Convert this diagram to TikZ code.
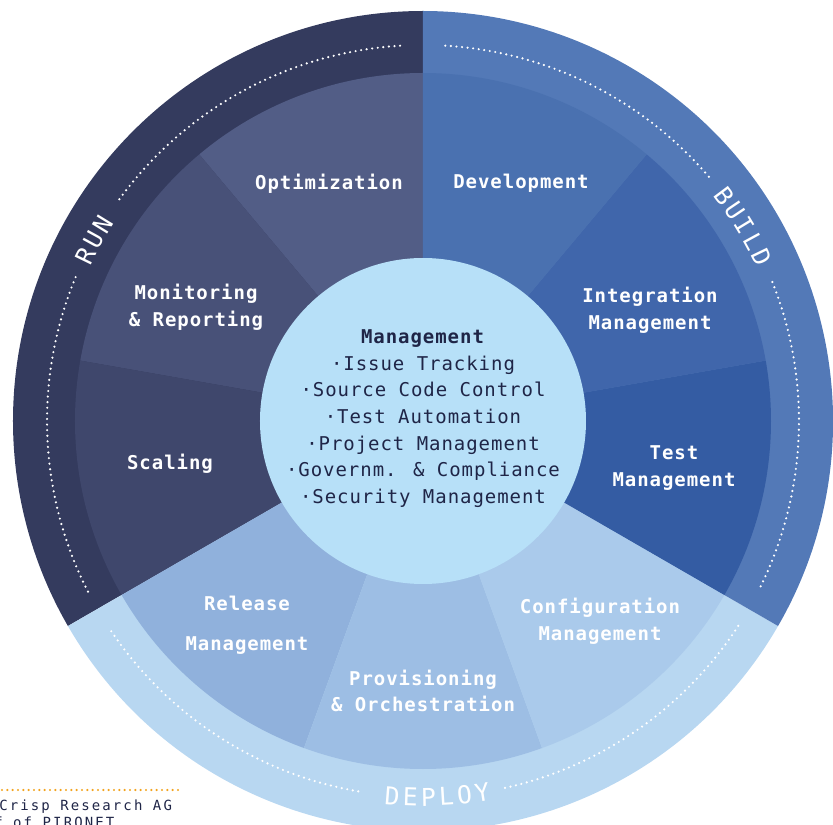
\documentclass[tikz,border=0pt]{standalone}
\usepackage{fontspec}
\usepackage{tikz}
\usetikzlibrary{positioning}
\newfontfamily\segfont[LetterSpace=5]{DejaVu Sans Mono}
\newfontfamily\ringfont{DejaVu Sans Mono}
\newfontfamily\notefont[LetterSpace=15]{DejaVu Sans Mono}
\definecolor{runring}{HTML}{343B5E}
\definecolor{buildring}{HTML}{5379B7}
\definecolor{deployring}{HTML}{B8D7F1}
\definecolor{optim}{HTML}{525D86}
\definecolor{monit}{HTML}{485178}
\definecolor{scal}{HTML}{3F476C}
\definecolor{devel}{HTML}{4A71B0}
\definecolor{integ}{HTML}{4066AB}
\definecolor{testm}{HTML}{345CA3}
\definecolor{relse}{HTML}{90B1DC}
\definecolor{prov}{HTML}{9DBEE4}
\definecolor{config}{HTML}{AACAEB}
\definecolor{hub}{HTML}{B7E0F8}
\definecolor{navytext}{HTML}{1F2547}
\definecolor{notedot}{HTML}{F2A31F}

\begin{document}
\begin{tikzpicture}[x=0.75pt, y=0.75pt,
    seg/.style={font=\segfont\bfseries\fontsize{14.25}{19.9}\selectfont, text=white, align=center, inner sep=0pt},
    mgmt/.style={font=\segfont\fontsize{14.25}{20}\selectfont, text=navytext, align=center, inner sep=0pt},
    ringtxt/.style={font=\ringfont\fontsize{18.5}{20}\selectfont, text=white, inner sep=0pt},
    note/.style={font=\notefont\fontsize{10.5}{12}\selectfont, text=navytext, inner sep=0pt},
    dots/.style={white, line width=1.8pt, line cap=round, dash pattern=on 0pt off 4.2pt}]
    \useasboundingbox (-423,-404) rectangle (410,421);
    \clip (-423,-404) rectangle (410,421);
    % outer ring
    \fill[runring] (0,0) -- (90:410) arc[start angle=90, end angle=210, radius=410] -- cycle;
    \fill[deployring] (0,0) -- (210:410) arc[start angle=210, end angle=330, radius=410] -- cycle;
    \fill[buildring] (0,0) -- (330:410) arc[start angle=330, end angle=450, radius=410] -- cycle;
    % segments
    \foreach \a/\c in {90/optim, 130/monit, 170/scal, 210/relse, 250/prov, 290/config, 330/testm, 370/integ, 410/devel}
        \fill[\c] (0,0) -- (\a:348) arc[start angle=\a, end angle=\a+40, radius=348] -- cycle;
    \fill[hub] (0,0) circle[radius=163];
    % dotted arcs
    \draw[dots] (93.5:376) arc[start angle=93.5, end angle=144.5, radius=376];
    \draw[dots] (157.5:376) arc[start angle=157.5, end angle=207.5, radius=376];
    \draw[dots] (86.6:376) arc[start angle=86.6, end angle=40.2, radius=376];
    \draw[dots] (21.7:376) arc[start angle=21.7, end angle=-26.3, radius=376];
    \draw[dots] (214:376) arc[start angle=214, end angle=260.7, radius=376];
    \draw[dots] (282.6:376) arc[start angle=282.6, end angle=327, radius=376];
    % ring labels
    \foreach \ch [count=\i] in {R,U,N}{
        \pgfmathsetmacro\ang{151.2+2.75*(2-\i)}
        \node[ringtxt, rotate=\ang-90](run\i) at (\ang:376){\ch};
    }
    \foreach \ch [count=\i] in {B,U,I,L,D}{
        \pgfmathsetmacro\ang{31.3+2.75*(3-\i)}
        \node[ringtxt, rotate=\ang-90](build\i) at (\ang:376){\ch};
    }
    \foreach \ch [count=\i] in {D,E,P,L,O,Y}{
        \pgfmathsetmacro\ang{272.2+2.75*(\i-3.5)}
        \node[ringtxt, rotate=\ang+90](deploy\i) at (\ang:376){\ch};
    }
    % segment labels
    \node[seg](optimization) at (-94,237.5){Optimization};
    \node[seg](development) at (98,237.5){Development};
    \node[seg](monitoring) at (-227,114){Monitoring\\\& Reporting};
    \node[seg](integration) at (227,110.5){Integration\\Management};
    \node[seg](scaling) at (-253,-42.5){Scaling};
    \node[seg](testing) at (251,-47){Test\\Management};
    \node[seg](release) at (-176,-204.5){Release\\[10pt]Management};
    \node[seg](provisioning) at (0,-270){Provisioning\\\& Orchestration};
    \node[seg](configuration) at (177,-200.5){Configuration\\Management};
    % hub text
    \node[mgmt](management) at (0,2.5){\textbf{Management}\\·Issue Tracking\\·Source Code Control\\·Test Automation\\·Project Management\\·Governm. \& Compliance\\·Security Management};
    % source note
    \draw[notedot, line width=1.8pt, line cap=round, dash pattern=on 0pt off 4pt] (-421,-369) -- (-243,-369);
    \node[note, anchor=base west](crisp) at (-424,-389){Crisp Research AG};
    \node[note, anchor=base west](pironet) at (-429,-406){f of PIRONET};
\end{tikzpicture}
\end{document}
